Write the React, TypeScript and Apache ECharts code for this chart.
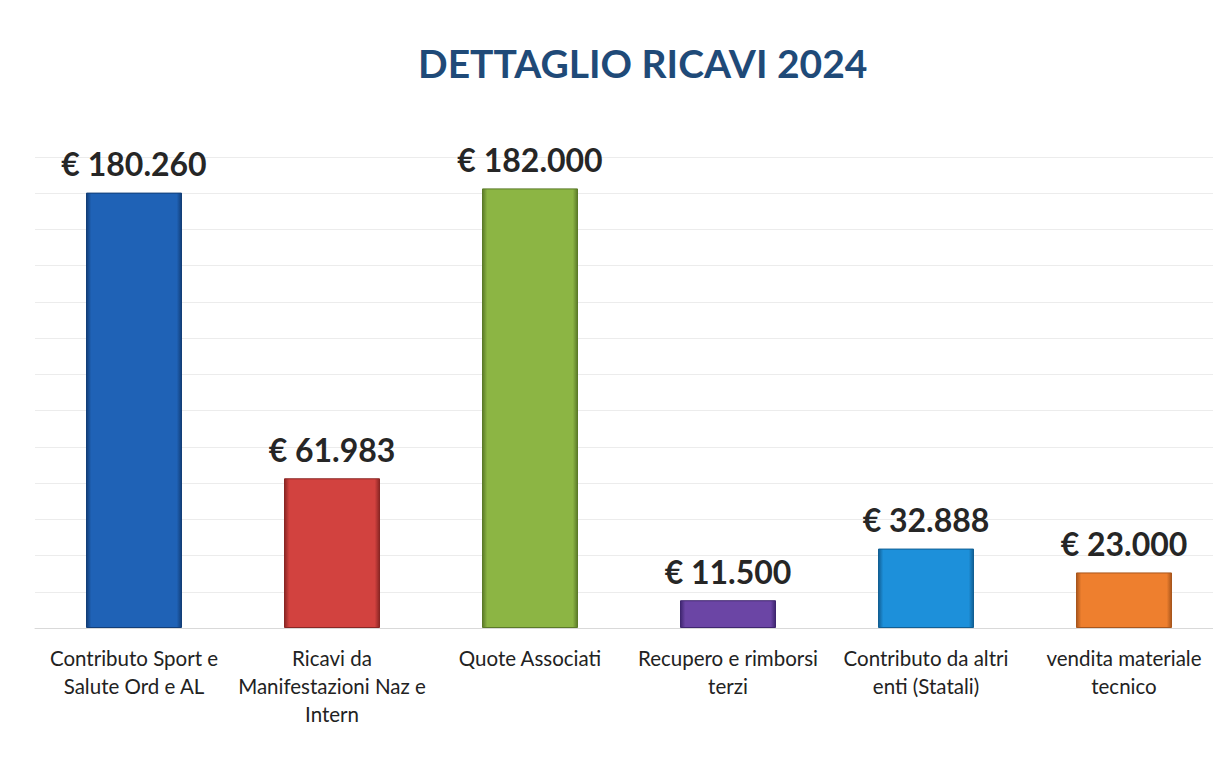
import React, { useEffect, useRef } from "react";
import * as echarts from "echarts";

const categories = [
  "Contributo Sport e\nSalute Ord e AL",
  "Ricavi da\nManifestazioni Naz e\nIntern",
  "Quote Associati",
  "Recupero e rimborsi\nterzi",
  "Contributo da altri\nenti (Statali)",
  "vendita materiale\ntecnico",
];
const values = [180260, 61983, 182000, 11500, 32888, 23000];
const barColors = ["#1F62B6", "#D2423F", "#8CB544", "#6B45A5", "#1D90DA", "#EE7F2E"];
const edgeColors = ["#123E78", "#8A2624", "#5B7A28", "#3F2670", "#115F94", "#A9561C"];
const title = "DETTAGLIO RICAVI 2024";

const fmt = (v: number) => "€ " + v.toString().replace(/\B(?=(\d{3})+(?!\d))/g, ".");

export default function App() {
  const ref = useRef<HTMLDivElement>(null);
  useEffect(() => {
    if (!ref.current) return;
    const chart = echarts.init(ref.current, null, { renderer: "svg" });
    chart.setOption({
      animation: false,
      backgroundColor: "#ffffff",
      title: {
        text: title,
        left: 413,
        top: 38,
        textStyle: {
          fontFamily: "Lato",
          fontWeight: "bold",
          fontSize: 39,
          color: "#1F4A78",
        },
      },
      grid: { left: 35, width: 1188, top: 157, bottom: 135, containLabel: false },
      xAxis: {
        type: "category",
        data: categories,
        axisLine: { show: true, lineStyle: { color: "#d9d9d9", width: 1 } },
        axisTick: { show: false },
        axisLabel: {
          interval: 0,
          fontFamily: "Lato",
          fontSize: 20.5,
          color: "#222",
          lineHeight: 28,
          margin: 16,
        },
      },
      yAxis: {
        type: "value",
        min: 0,
        max: 195000,
        interval: 15000,
        axisLabel: { show: false },
        axisLine: { show: false },
        axisTick: { show: false },
        splitLine: { lineStyle: { color: "#ececec", width: 1 } },
      },
      series: [
        {
          type: "bar",
          barWidth: 96,
          data: values.map((v, i) => ({
            value: v,
            itemStyle: {
              color: new echarts.graphic.LinearGradient(0, 0, 1, 0, [
                { offset: 0, color: edgeColors[i] },
                { offset: 0.05, color: barColors[i] },
                { offset: 0.95, color: barColors[i] },
                { offset: 1, color: edgeColors[i] },
              ]),
              borderColor: edgeColors[i],
              borderWidth: 1,
            },
          })),
          label: {
            show: true,
            position: "top",
            distance: 13,
            formatter: (p: any) => fmt(p.value),
            fontFamily: "Lato",
            fontWeight: "bold",
            fontSize: 32,
            color: "#262626",
          },
        },
      ],
    });
    return () => chart.dispose();
  }, []);
  return (
    <div style={{ position: "absolute", left: 0, top: 0, width: 1213, height: 763, overflow: "hidden" }}>
      <div ref={ref} style={{ width: 1223, height: 763 }} />
    </div>
  );
}
